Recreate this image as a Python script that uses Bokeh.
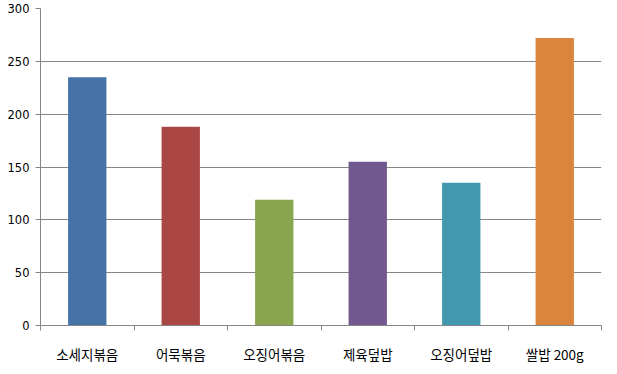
from bokeh.plotting import figure
from bokeh.models import FixedTicker, ColumnDataSource, Range1d
from bokeh.embed import file_html
from bokeh.resources import INLINE

categories = ["소세지볶음", "어묵볶음", "오징어볶음", "제육덮밥", "오징어덮밥", "쌀밥 200g"]
values = [235, 188, 119, 155, 135, 272]
colors = ["#4573A7", "#AA4644", "#89A54E", "#71588F", "#4298AF", "#DB843D"]
y_ticks = [0, 50, 100, 150, 200, 250, 300]

xs = [i + 0.5 for i in range(len(categories))]
src = ColumnDataSource(dict(x=xs, top=values, color=colors))

p = figure(width=617, height=374, output_backend="svg", toolbar_location=None,
           x_range=Range1d(0, len(categories)), y_range=Range1d(0, 300),
           min_border_left=40, min_border_right=16, min_border_top=8, min_border_bottom=49)
p.outline_line_color = None
p.vbar(x="x", top="top", width=0.41, color="color", source=src, line_color=None)

p.xaxis.ticker = FixedTicker(ticks=xs, minor_ticks=list(range(len(categories) + 1)))
p.xaxis.major_label_overrides = {x: c for x, c in zip(xs, categories)}
p.xaxis.major_tick_out = 0
p.xaxis.major_tick_in = 0
p.xaxis.minor_tick_out = 5
p.xaxis.minor_tick_in = 0
p.xaxis.minor_tick_line_color = "#868686"
p.xaxis.axis_line_color = "#868686"
p.xaxis.major_label_text_font = "Noto Sans CJK KR"
p.xaxis.major_label_text_font_size = "13.5px"
p.xaxis.major_label_standoff = 13
p.xaxis.major_label_text_color = "#000000"
p.xgrid.grid_line_color = None

p.yaxis.ticker = FixedTicker(ticks=y_ticks)
p.yaxis.major_tick_out = 5
p.yaxis.major_tick_in = 0
p.yaxis.minor_tick_line_color = None
p.yaxis.axis_line_color = "#868686"
p.yaxis.major_tick_line_color = "#868686"
p.yaxis.major_label_text_font = "DejaVu Sans"
p.yaxis.major_label_text_font_size = "11.5px"
p.yaxis.major_label_standoff = 6
p.yaxis.major_label_text_color = "#000000"
p.ygrid.grid_line_color = "#868686"
p.ygrid.grid_line_alpha = 1.0

open("out.html", "w").write(file_html(p, INLINE))
